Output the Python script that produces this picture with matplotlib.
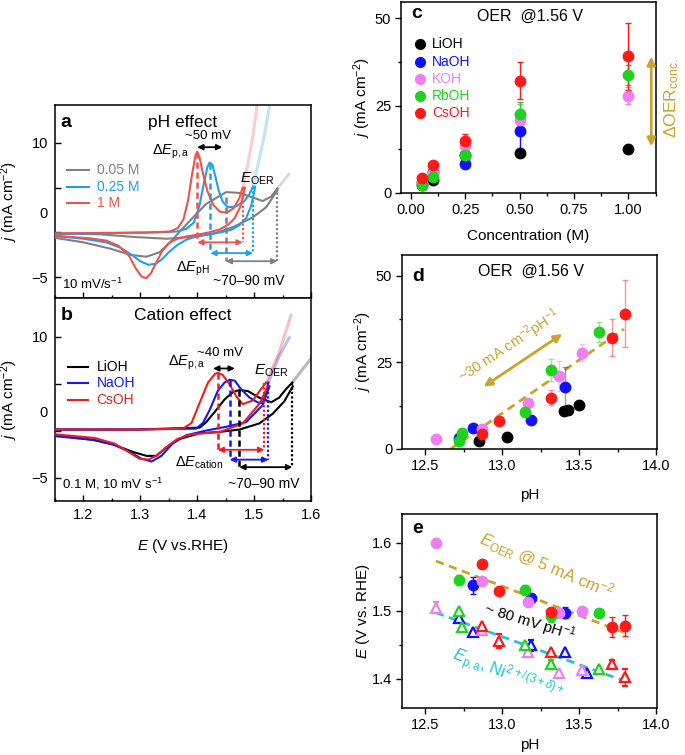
import matplotlib
matplotlib.use('Agg')
import matplotlib.pyplot as plt
import numpy as np
from matplotlib.ticker import MultipleLocator, FormatStrFormatter
from matplotlib.transforms import ScaledTranslation

plt.rcParams['font.family'] = ['Liberation Sans', 'DejaVu Sans']
plt.rcParams['mathtext.fontset'] = 'custom'
plt.rcParams['mathtext.rm'] = 'Liberation Sans'
plt.rcParams['mathtext.it'] = 'Liberation Sans:italic'
plt.rcParams['mathtext.bf'] = 'Liberation Sans:bold'
plt.rcParams['axes.linewidth'] = 1.1

# ======================= DATA =======================
# ---- panel a : pH effect (E in V vs RHE, j in mA cm-2) ----
a_labels = ['0.05 M', '0.25 M', '1 M']
# 0.05 M
a005_up_E = [1.150, 1.200, 1.247, 1.282, 1.311, 1.334, 1.352, 1.387, 1.416, 1.451, 1.474, 1.498, 1.515, 1.530, 1.541]
a005_up_j = [-0.6, -1.1, -1.8, -2.5, -2.7, -2.2, -1.1, 1.3, 3.2, 4.5, 4.4, 3.9, 3.5, 4.0, 4.9]
a005_tail_E = [1.541, 1.550, 1.561]
a005_tail_j = [4.9, 5.6, 6.5]
a005_dn_E = [1.541, 1.521, 1.498, 1.463, 1.428, 1.393, 1.346, 1.288, 1.229, 1.150]
a005_dn_j = [4.7, 2.8, 1.7, 0.6, -0.15, -0.5, -0.7, -0.5, -0.2, -0.1]
# 0.25 M
a025_up_E = [1.150, 1.229, 1.317, 1.363, 1.381, 1.394, 1.404, 1.412, 1.418, 1.422, 1.427, 1.432, 1.438, 1.445, 1.454, 1.468, 1.483, 1.492, 1.498]
a025_up_j = [-0.2, -0.1, 0.0, 0.1, 0.4, 1.1, 3.0, 5.6, 7.3, 7.8, 7.5, 6.2, 4.6, 3.4, 2.8, 2.9, 3.5, 4.3, 5.1]
a025_tail_E = [1.498, 1.507, 1.518, 1.528]
a025_tail_j = [5.1, 7.6, 10.8, 14.5]
a025_dn_E = [1.502, 1.495, 1.486, 1.474, 1.460, 1.440, 1.420, 1.400, 1.381, 1.365, 1.350, 1.338, 1.326, 1.314, 1.300, 1.285, 1.265, 1.240, 1.200, 1.150]
a025_dn_j = [5.1, 3.0, 1.6, 0.8, 0.3, 0.0, -0.2, -0.4, -0.8, -1.4, -2.2, -3.0, -3.5, -3.6, -3.2, -2.5, -1.7, -1.1, -0.7, -0.4]
# 1 M
a1_up_E = [1.150, 1.229, 1.317, 1.352, 1.366, 1.376, 1.384, 1.391, 1.397, 1.400, 1.404, 1.410, 1.418, 1.428, 1.440, 1.452, 1.464, 1.474, 1.480]
a1_up_j = [-0.1, -0.05, 0.0, 0.1, 0.5, 1.5, 3.6, 6.5, 8.6, 9.0, 8.4, 6.6, 4.6, 3.1, 2.3, 2.2, 2.7, 3.8, 5.0]
a1_tail_E = [1.480, 1.489, 1.498, 1.506]
a1_tail_j = [5.0, 7.6, 10.8, 14.5]
a1_dn_E = [1.484, 1.476, 1.466, 1.455, 1.440, 1.420, 1.400, 1.380, 1.365, 1.350, 1.338, 1.327, 1.318, 1.310, 1.302, 1.292, 1.280, 1.262, 1.240, 1.210, 1.180, 1.150]
a1_dn_j = [5.0, 2.9, 1.6, 0.9, 0.35, 0.0, -0.25, -0.45, -0.7, -1.2, -2.1, -3.5, -4.6, -5.1, -4.9, -4.0, -2.6, -1.5, -0.9, -0.65, -0.5, -0.4]
# peak potentials, E_OER and marker heights (panel a)
a_Epa = [1.450, 1.423, 1.400]
a_jpa = [4.0, 7.7, 9.0]
a_Eoer = [1.541, 1.498, 1.480]
a_joer = [4.9, 5.1, 5.0]
a_jarrow = [-3.2, -2.3, -1.1]

# ---- panel b : cation effect ----
b_labels = ['LiOH', 'NaOH', 'CsOH']
bLi_up_E = [1.150, 1.288, 1.404, 1.416, 1.431, 1.448, 1.463, 1.474, 1.489, 1.509, 1.530, 1.544, 1.556, 1.567]
bLi_up_j = [0.1, 0.1, 0.3, 0.9, 2.0, 3.3, 4.1, 4.3, 4.2, 3.5, 3.0, 3.5, 4.4, 5.1]
bLi_tail_E = [1.567, 1.585, 1.606]
bLi_tail_j = [5.1, 6.5, 8.1]
bLi_dn_E = [1.568, 1.553, 1.533, 1.509, 1.474, 1.439, 1.404, 1.369, 1.346, 1.328, 1.311, 1.288, 1.253, 1.218, 1.150]
bLi_dn_j = [4.7, 3.1, 1.8, 0.75, 0.1, -0.15, -0.3, -0.9, -1.8, -2.7, -2.7, -2.3, -1.5, -1.0, -0.5]
bNa_up_E = [1.150, 1.288, 1.398, 1.410, 1.422, 1.436, 1.448, 1.457, 1.466, 1.477, 1.492, 1.506, 1.515, 1.521, 1.525]
bNa_up_j = [0.1, 0.1, 0.2, 0.8, 2.2, 4.2, 5.1, 5.4, 5.3, 4.4, 3.5, 3.0, 2.9, 4.0, 5.1]
bNa_tail_E = [1.525, 1.544, 1.562]
bNa_tail_j = [5.1, 7.9, 9.9]
bNa_dn_E = [1.527, 1.515, 1.486, 1.451, 1.416, 1.381, 1.358, 1.337, 1.320, 1.302, 1.282, 1.253, 1.218, 1.150]
bNa_dn_j = [4.7, 2.7, 0.9, 0.4, 0.0, -0.5, -1.3, -2.7, -3.3, -3.0, -2.3, -1.5, -1.0, -0.6]
bCs_up_E = [1.150, 1.288, 1.375, 1.390, 1.404, 1.419, 1.431, 1.436, 1.445, 1.457, 1.469, 1.480, 1.498, 1.512, 1.521]
bCs_up_j = [0.1, 0.1, 0.2, 0.8, 2.9, 5.1, 6.0, 6.15, 5.9, 4.9, 3.6, 2.8, 3.2, 4.4, 5.1]
bCs_tail_E = [1.521, 1.544, 1.565]
bCs_tail_j = [5.1, 8.3, 12.3]
bCs_dn_E = [1.524, 1.510, 1.480, 1.440, 1.390, 1.365, 1.345, 1.328, 1.314, 1.298, 1.280, 1.255, 1.220, 1.150]
bCs_dn_j = [4.7, 2.9, 0.75, -0.15, -0.4, -0.9, -1.8, -2.7, -3.1, -3.0, -2.3, -1.4, -0.8, -0.4]
b_Epa = [1.474, 1.457, 1.436]
b_jpa = [4.3, 5.4, 6.15]
b_Eoer = [1.567, 1.525, 1.518]
b_joer = [5.1, 5.1, 5.1]
b_jarrow = [-3.9, -3.1, -2.05]

# ---- panels c, d, e ----
electrolytes = ['LiOH', 'NaOH', 'KOH', 'RbOH', 'CsOH']
conc = [0.05, 0.1, 0.25, 0.5, 1.0]
j_LiOH = [2.2, 3.6, 10.9, 11.3, 12.6]
j_NaOH = [3.2, 6.1, 8.3, 17.8, np.nan]
j_KOH = [2.9, 5.8, 13.3, 21.0, 27.8]
j_RbOH = [2.3, 4.5, 10.8, 22.7, 33.7]
j_CsOH = [4.3, 8.0, 14.8, 32.1, 39.1]
jerr_LiOH = [0.2, 0.3, 0.5, 0.4, 0.4]
jerr_NaOH = [0.3, 0.4, 0.5, 6.0, np.nan]
jerr_KOH = [0.3, 0.4, 0.8, 4.3, 2.4]
jerr_RbOH = [0.3, 0.4, 0.8, 3.2, 2.9]
jerr_CsOH = [0.3, 0.5, 2.2, 5.3, 9.6]
pH_LiOH = [12.85, 13.03, 13.40, 13.43, 13.50]
pH_NaOH = [12.72, 12.81, 13.19, 13.41, 13.55]
pH_KOH = [12.57, 12.87, 13.17, 13.37, 13.52]
pH_RbOH = [12.72, 12.74, 13.15, 13.32, 13.63]
pH_CsOH = [12.87, 12.98, 13.32, 13.71, 13.80]
# E_OER at 5 mA cm-2 (filled circles) and E_p,a (open triangles)
Eoer_NaOH = [np.nan, 1.537, 1.519, 1.497, np.nan]
Eoer_KOH = [1.600, 1.544, 1.512, 1.496, 1.499]
Eoer_RbOH = [1.545, np.nan, 1.531, 1.492, 1.497]
Eoer_CsOH = [1.568, 1.529, 1.498, 1.476, 1.478]
Eoer_err_NaOH = [0, 0.012, 0.006, 0.008, 0]
Eoer_err_KOH = [0, 0, 0, 0, 0]
Eoer_err_RbOH = [0.007, 0, 0.006, 0.008, 0]
Eoer_err_CsOH = [0, 0, 0, 0.015, 0.015]
Epa_NaOH = [1.489, 1.468, 1.449, 1.439, 1.409]
Epa_KOH = [1.504, 1.472, 1.440, 1.409, 1.413]
Epa_RbOH = [1.499, 1.476, 1.449, 1.421, 1.414]
Epa_CsOH = [1.478, 1.455, 1.439, 1.422, 1.402]
Epa_err_NaOH = [0, 0, 0.008, 0, 0]
Epa_err_KOH = [0.008, 0, 0, 0, 0]
Epa_err_RbOH = [0, 0.008, 0, 0.006, 0]
Epa_err_CsOH = [0, 0.01, 0, 0.006, 0.012]
# guide lines
d_fit_pH = [12.665, 13.79]
d_fit_j = [0.0, 34.6]
e_fitOER_pH = [12.57, 13.79]
e_fitOER_E = [1.573, 1.468]
e_fitPa_pH = [12.57, 13.79]
e_fitPa_E = [1.497, 1.397]

# ======================= STYLE =======================
a_colors = ['#808080', '#1e9ff0', '#f0524c']
b_colors = ['#000000', '#1414ff', '#ee1c1c']
el_colors = {'LiOH': '#000000', 'NaOH': '#1010ff', 'KOH': '#f07ff0',
             'RbOH': '#1ed31e', 'CsOH': '#ff1a1a'}
gold = '#cda22c'
cyan = '#22c4d4'

W, H = 685, 755
fig = plt.figure(figsize=(W / 100, H / 100), dpi=100)


def ax_px(l, t, r, b):
    return fig.add_axes([l / W, 1 - b / H, (r - l) / W, (b - t) / H])


axa = ax_px(55, 105, 311, 298)
axb = ax_px(55, 298, 311, 501)
axc = ax_px(401, 2, 656, 193)
axd = ax_px(402, 255, 657, 449)
axe = ax_px(402, 514, 657, 708)

TFS = 10.5


def cv(ax, E1, j1, Et, jt, E2, j2, color):
    ax.plot(E1, j1, color=color, lw=1.5, zorder=3)
    ax.plot(E2, j2, color=color, lw=1.5, zorder=3)
    ax.plot(Et, jt, color=color, lw=2.2, alpha=0.28, zorder=2,
            solid_capstyle='round')


def harrow(ax, x0, x1, y, color, ms=8, lw=1.3):
    ax.annotate('', xy=(x1, y), xytext=(x0, y),
                arrowprops=dict(arrowstyle='<|-|>', color=color, lw=lw,
                                mutation_scale=ms, shrinkA=0, shrinkB=0),
                zorder=5)


def setup_ab(ax, ylim):
    ax.set_xlim(1.15, 1.6)
    ax.set_ylim(*ylim)
    ax.xaxis.set_major_locator(MultipleLocator(0.1))
    ax.xaxis.set_minor_locator(MultipleLocator(0.05))
    ax.xaxis.set_major_formatter(FormatStrFormatter('%.1f'))
    ax.set_yticks([10, 5, 0, -5])
    ax.set_yticklabels(['10', '', '', '\u22125'])
    ax.tick_params(direction='in', which='both', labelsize=TFS, pad=5,
                   length=4, width=1)
    ax.tick_params(which='minor', length=2.5)
    ax.text(-0.03, 0, '0', transform=ax.get_yaxis_transform()
            + ScaledTranslation(0, 0.18, fig.dpi_scale_trans),
            ha='right', va='center', fontsize=TFS)
    ax.set_ylabel(r'$j$ (mA cm$^{-2}$)', fontsize=11)
    ax.yaxis.set_label_coords(-0.135, 0.5)


# ---------------- panel a ----------------
setup_ab(axa, (-7.3, 14.2))
axa.tick_params(labelbottom=False)
a_curves = [(a005_up_E, a005_up_j, a005_tail_E, a005_tail_j, a005_dn_E, a005_dn_j),
            (a025_up_E, a025_up_j, a025_tail_E, a025_tail_j, a025_dn_E, a025_dn_j),
            (a1_up_E, a1_up_j, a1_tail_E, a1_tail_j, a1_dn_E, a1_dn_j)]
for cur, col in zip(a_curves, a_colors):
    cv(axa, *cur, col)
for i, col in enumerate(a_colors):
    axa.plot([a_Epa[i], a_Epa[i]], [a_jpa[i], a_jarrow[i]], color=col,
             lw=1.8, ls=(0, (2.5, 1.5)), zorder=4)
    axa.plot([a_Eoer[i], a_Eoer[i]], [a_joer[i], a_jarrow[i]], color=col,
             lw=1.6, ls=(0, (1, 1)), zorder=4)
    harrow(axa, a_Epa[i], a_Eoer[i], a_jarrow[i], col)
harrow(axa, 1.400, 1.444, 9.5, 'black')
axa.text(1.419, 10.7, '~50 mV', ha='center', va='center', fontsize=9.5)
axa.text(1.386, 9.0, r'$\Delta E_{\rm p,a}$', ha='right', va='center', fontsize=10.5)
axa.text(1.476, 6.0, r'$E_{\rm OER}$', ha='left', va='center', fontsize=11)
axa.text(1.362, -4.0, r'$\Delta E_{\rm pH}$', ha='left', va='center', fontsize=10.5)
axa.text(1.428, -5.4, '~70\u201390 mV', ha='left', va='center', fontsize=10)
axa.text(1.162, -5.75, r'10 mV/s$^{-1}$', ha='left', va='center', fontsize=9.5)
axa.text(0.5, 0.91, 'pH effect', transform=axa.transAxes, ha='center',
         va='center', fontsize=12.5)
axa.text(0.022, 0.91, 'a', transform=axa.transAxes, ha='left', va='center',
         fontsize=14, fontweight='bold')
for k, (lab, col) in enumerate(zip(a_labels, a_colors)):
    y = 0.663 - 0.086 * k
    axa.plot([0.046, 0.131], [y, y], color=col, lw=1.5, transform=axa.transAxes)
    axa.text(0.163, y, lab, color=col, transform=axa.transAxes, ha='left',
             va='center', fontsize=10)

# ---------------- panel b ----------------
setup_ab(axb, (-7.5, 14.1))
b_curves = [(bLi_up_E, bLi_up_j, bLi_tail_E, bLi_tail_j, bLi_dn_E, bLi_dn_j),
            (bNa_up_E, bNa_up_j, bNa_tail_E, bNa_tail_j, bNa_dn_E, bNa_dn_j),
            (bCs_up_E, bCs_up_j, bCs_tail_E, bCs_tail_j, bCs_dn_E, bCs_dn_j)]
for cur, col in zip(b_curves, b_colors):
    cv(axb, *cur, col)
for i, col in enumerate(b_colors):
    axb.plot([b_Epa[i], b_Epa[i]], [b_jpa[i], b_jarrow[i]], color=col,
             lw=1.8, ls=(0, (2.5, 1.5)), zorder=4)
    axb.plot([b_Eoer[i], b_Eoer[i]], [b_joer[i], b_jarrow[i]], color=col,
             lw=1.6, ls=(0, (1, 1)), zorder=4)
    harrow(axb, b_Epa[i], b_Eoer[i], b_jarrow[i], col)
harrow(axb, 1.428, 1.466, 6.6, 'black')
axb.text(1.440, 8.3, '~40 mV', ha='center', va='center', fontsize=9.5)
axb.text(1.415, 7.2, r'$\Delta E_{\rm p,a}$', ha='right', va='center', fontsize=10.5)
axb.text(1.500, 6.4, r'$E_{\rm OER}$', ha='left', va='center', fontsize=11)
axb.text(1.361, -3.4, r'$\Delta E_{\rm cation}$', ha='left', va='center', fontsize=10.5)
axb.text(1.454, -5.65, '~70\u201390 mV', ha='left', va='center', fontsize=10)
axb.text(1.162, -5.65, r'0.1 M, 10 mV s$^{-1}$', ha='left', va='center', fontsize=9.5)
axb.text(0.5, 0.915, 'Cation effect', transform=axb.transAxes, ha='center',
         va='center', fontsize=12.5)
axb.text(0.022, 0.915, 'b', transform=axb.transAxes, ha='left', va='center',
         fontsize=14, fontweight='bold')
for k, (lab, col) in enumerate(zip(b_labels, b_colors)):
    y = 0.662 - 0.082 * k
    axb.plot([0.05, 0.129], [y, y], color=col, lw=1.5, transform=axb.transAxes)
    axb.text(0.163, y, lab, color=col, transform=axb.transAxes, ha='left',
             va='center', fontsize=10)
axb.set_xlabel(r'$E$ (V vs.RHE)', fontsize=11)
axb.xaxis.set_label_coords(0.5, -0.175)

# ---------------- panels c/d/e common ----------------
j_by = {'LiOH': j_LiOH, 'NaOH': j_NaOH, 'KOH': j_KOH, 'RbOH': j_RbOH, 'CsOH': j_CsOH}
jerr_by = {'LiOH': jerr_LiOH, 'NaOH': jerr_NaOH, 'KOH': jerr_KOH,
           'RbOH': jerr_RbOH, 'CsOH': jerr_CsOH}
pH_by = {'LiOH': pH_LiOH, 'NaOH': pH_NaOH, 'KOH': pH_KOH, 'RbOH': pH_RbOH,
         'CsOH': pH_CsOH}

for ax in (axc, axd, axe):
    ax.tick_params(direction='out', which='both', labelsize=TFS, length=4,
                   width=1, pad=3)
    ax.tick_params(which='minor', length=2.5)

# panel c
axc.set_xlim(-0.045, 1.127)
axc.set_ylim(0, 54.6)
axc.xaxis.set_major_locator(MultipleLocator(0.25))
axc.xaxis.set_minor_locator(MultipleLocator(0.125))
axc.xaxis.set_major_formatter(FormatStrFormatter('%.2f'))
axc.yaxis.set_major_locator(MultipleLocator(25))
axc.yaxis.set_minor_locator(MultipleLocator(12.5))
for el in electrolytes:
    c = el_colors[el]
    axc.errorbar(conc, j_by[el], yerr=jerr_by[el], fmt='o', color=c, ms=7.5,
                 mec=c, capsize=2.5, elinewidth=1, capthick=1, zorder=3)
for k, el in enumerate(electrolytes):
    y = 0.778 - 0.09 * k
    axc.plot([0.075], [y], 'o', color=el_colors[el], ms=7, transform=axc.transAxes)
    axc.text(0.122, y, el, color=el_colors[el], transform=axc.transAxes,
             ha='left', va='center', fontsize=10)
axc.text(0.506, 0.923, 'OER  @1.56 V', transform=axc.transAxes, ha='center',
         va='center', fontsize=11.5)
axc.text(0.042, 0.94, 'c', transform=axc.transAxes, ha='left', va='center',
         fontsize=14, fontweight='bold')
axc.annotate('', xy=(1.105, 39.0), xytext=(1.105, 13.3),
             arrowprops=dict(arrowstyle='<|-|>', color=gold, lw=2,
                             mutation_scale=12, shrinkA=0, shrinkB=0),
             annotation_clip=False)
fig.text(672 / W, 1 - 98 / H, r'$\Delta$OER$_{\rm conc.}$', rotation=90,
         ha='center', va='center', color=gold, fontsize=12.5)
axc.set_xlabel('Concentration (M)', fontsize=11)
axc.xaxis.set_label_coords(0.5, -0.19)
axc.set_ylabel(r'$j$ (mA cm$^{-2}$)', fontsize=11)
axc.yaxis.set_label_coords(-0.11, 0.5)

# panel d
axd.set_xlim(12.35, 14.005)
axd.set_ylim(0, 56)
for ax in (axd, axe):
    ax.xaxis.set_major_locator(MultipleLocator(0.5))
    ax.xaxis.set_minor_locator(MultipleLocator(0.25))
    ax.xaxis.set_major_formatter(FormatStrFormatter('%.1f'))
axd.yaxis.set_major_locator(MultipleLocator(25))
axd.yaxis.set_minor_locator(MultipleLocator(12.5))
axd.plot(d_fit_pH, d_fit_j, color=gold, lw=2, ls=(0, (3, 2)), zorder=2)
for el in electrolytes:
    c = el_colors[el]
    _, caps, bars = axd.errorbar(pH_by[el], j_by[el], yerr=jerr_by[el], fmt='o',
                                 color=c, ms=7.5, mec=c, capsize=2.5,
                                 elinewidth=1, capthick=1, zorder=3)
    for cl in caps:
        cl.set_alpha(0.45)
    for b in bars:
        b.set_alpha(0.45)
axd.annotate('', xy=(13.39, 33.2), xytext=(12.88, 18.0),
             arrowprops=dict(arrowstyle='<|-|>', color=gold, lw=2,
                             mutation_scale=12, shrinkA=0, shrinkB=0))
axd.text(13.05, 29.6, r'~30 mA cm$^{-2}$pH$^{-1}$', color=gold, rotation=33.5,
         rotation_mode='anchor', ha='center', va='center', fontsize=10.5)
axd.text(0.506, 0.914, 'OER  @1.56 V', transform=axd.transAxes, ha='center',
         va='center', fontsize=11.5)
axd.text(0.042, 0.888, 'd', transform=axd.transAxes, ha='left', va='center',
         fontsize=14, fontweight='bold')
axd.set_xlabel('pH', fontsize=11)
axd.xaxis.set_label_coords(0.5, -0.2)
axd.set_ylabel(r'$j$ (mA cm$^{-2}$)', fontsize=11)
axd.yaxis.set_label_coords(-0.11, 0.5)

# panel e
Eoer_by = {'NaOH': Eoer_NaOH, 'KOH': Eoer_KOH, 'RbOH': Eoer_RbOH, 'CsOH': Eoer_CsOH}
Eoer_err_by = {'NaOH': Eoer_err_NaOH, 'KOH': Eoer_err_KOH, 'RbOH': Eoer_err_RbOH,
               'CsOH': Eoer_err_CsOH}
Epa_by = {'NaOH': Epa_NaOH, 'KOH': Epa_KOH, 'RbOH': Epa_RbOH, 'CsOH': Epa_CsOH}
Epa_err_by = {'NaOH': Epa_err_NaOH, 'KOH': Epa_err_KOH, 'RbOH': Epa_err_RbOH,
              'CsOH': Epa_err_CsOH}
axe.set_xlim(12.35, 14.005)
axe.set_ylim(1.357, 1.642)
axe.yaxis.set_major_locator(MultipleLocator(0.1))
axe.yaxis.set_minor_locator(MultipleLocator(0.05))
axe.yaxis.set_major_formatter(FormatStrFormatter('%.1f'))
axe.plot(e_fitOER_pH, e_fitOER_E, color=gold, lw=2, ls=(0, (3, 2)), zorder=2)
axe.plot(e_fitPa_pH, e_fitPa_E, color=cyan, lw=2, ls=(0, (3, 2)), zorder=2)
for el in ['NaOH', 'KOH', 'RbOH', 'CsOH']:
    c = el_colors[el]
    axe.errorbar(pH_by[el], Epa_by[el], yerr=Epa_err_by[el], fmt='^', color=c,
                 mfc='white', mec=c, mew=1.6, ms=7.5, capsize=2.5,
                 elinewidth=1, capthick=1, zorder=3)
    axe.errorbar(pH_by[el], Eoer_by[el], yerr=Eoer_err_by[el], fmt='o', color=c,
                 mec=c, ms=7.5, capsize=2.5, elinewidth=1, capthick=1, zorder=4)
axe.text(13.29, 1.566, r'$E_{\rm OER}$ @ 5 mA cm$^{-2}$', color=gold, rotation=-23,
         rotation_mode='anchor', ha='center', va='center', fontsize=12)
axe.text(13.18, 1.482, r'~ 80 mV pH$^{-1}$', color='black', rotation=-17,
         rotation_mode='anchor', ha='center', va='center', fontsize=11)
axe.text(13.03, 1.405, r'$E_{\rm p,a}$, Ni$^{2+/(3+\delta)+}$', color=cyan,
         rotation=-21, rotation_mode='anchor', ha='center', va='center',
         fontsize=12)
axe.text(0.042, 0.926, 'e', transform=axe.transAxes, ha='left', va='center',
         fontsize=14, fontweight='bold')
axe.set_xlabel('pH', fontsize=11)
axe.xaxis.set_label_coords(0.5, -0.155)
axe.set_ylabel(r'$E$ (V vs. RHE)', fontsize=11)
axe.yaxis.set_label_coords(-0.118, 0.5)

fig.savefig('out.png', dpi=100)
